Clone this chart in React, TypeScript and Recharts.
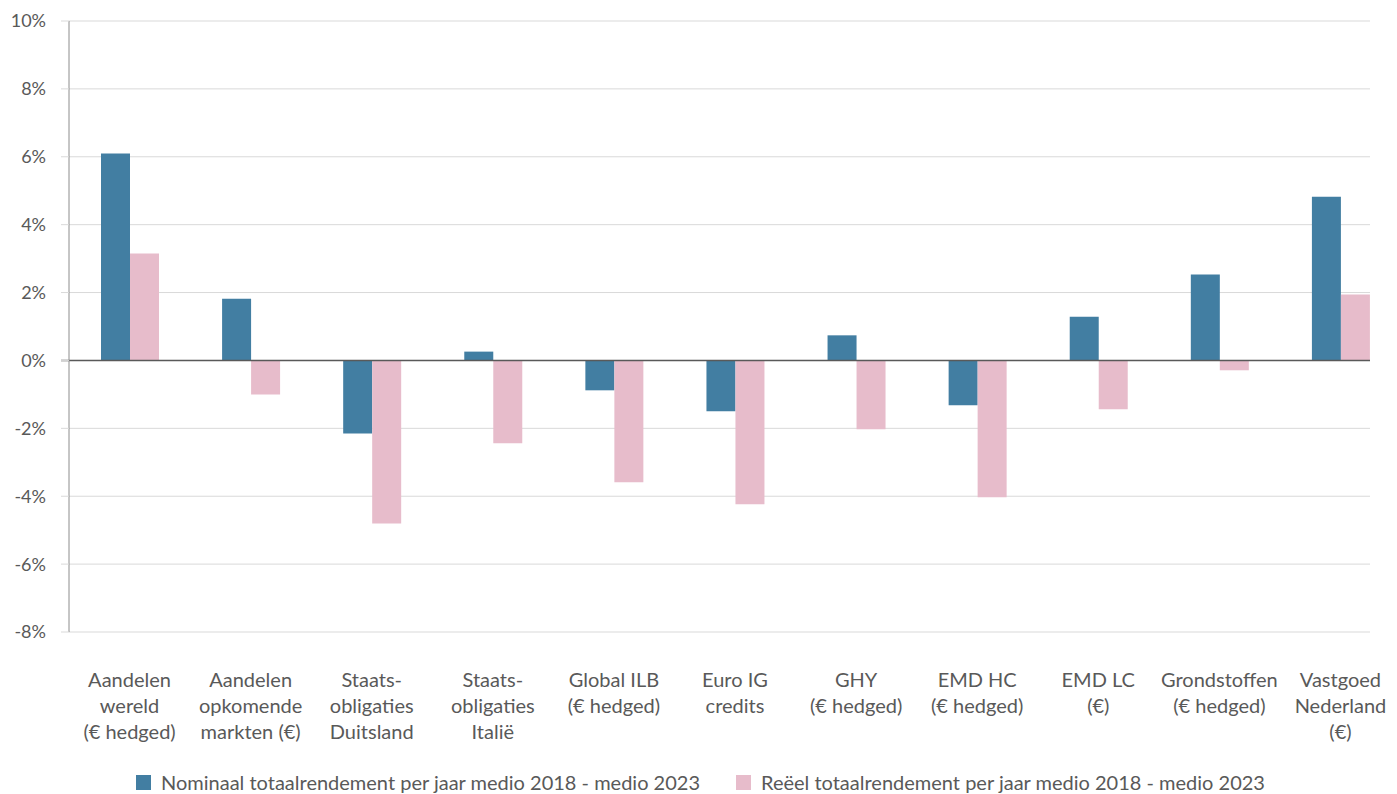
import React from "react";
import {
  BarChart,
  Bar,
  XAxis,
  YAxis,
  CartesianGrid,
  ReferenceLine,
  Legend,
} from "recharts";

const categories = [
  "Aandelen|wereld|(€ hedged)",
  "Aandelen|opkomende|markten (€)",
  "Staats-|obligaties|Duitsland",
  "Staats-|obligaties|Italië",
  "Global ILB|(€ hedged)",
  "Euro IG|credits",
  "GHY|(€ hedged)",
  "EMD HC|(€ hedged)",
  "EMD LC|(€)",
  "Grondstoffen|(€ hedged)",
  "Vastgoed|Nederland|(€)",
];
const nominaal = [6.1, 1.82, -2.15, 0.26, -0.88, -1.5, 0.74, -1.32, 1.29, 2.53, 4.82];
const reeel = [3.15, -1.0, -4.8, -2.44, -3.59, -4.24, -2.03, -4.03, -1.44, -0.29, 1.94];
const yTicks = [-8, -6, -4, -2, 0, 2, 4, 6, 8, 10];

const seriesNames = [
  "Nominaal totaalrendement per jaar medio 2018 - medio 2023",
  "Reëel totaalrendement per jaar medio 2018 - medio 2023",
];
const colors = ["#427ea2", "#e7bccb"];

const data = categories.map((c, i) => ({
  name: c,
  nominaal: nominaal[i],
  reeel: reeel[i],
}));

const font = "Lato, 'Open Sans', sans-serif";
const textColor = "#595959";

function XTick(props: any) {
  const { x, y, payload } = props;
  const lines = String(payload.value).split("|");
  return (
    <text
      x={x}
      y={y + 55}
      textAnchor="middle"
      fill={textColor}
      fontSize={20}
      fontFamily={font}
    >
      {lines.map((l, i) => (
        <tspan key={i} x={x} dy={i === 0 ? 0 : 26}>
          {l}
        </tspan>
      ))}
    </text>
  );
}

// zero line stops where the grid stops
function ZeroLine(props: any) {
  const { y1 } = props;
  return <line x1={61} x2={1370} y1={y1} y2={y1} stroke="#595959" strokeWidth={1.5} />;
}

function LegendContent() {
  return (
    <div
      style={{
        display: "flex",
        justifyContent: "center",
        paddingTop: 18,
        fontFamily: font,
        fontSize: 20,
        color: textColor,
        lineHeight: "20px",
      }}
    >
      {seriesNames.map((n, i) => (
        <div
          key={n}
          style={{ display: "flex", alignItems: "center", marginLeft: i ? 36 : 0 }}
        >
          <span
            style={{
              width: 15,
              height: 15,
              background: colors[i],
              display: "inline-block",
              marginRight: 10,
            }}
          />
          <span>{n}</span>
        </div>
      ))}
    </div>
  );
}

export default function App() {
  return (
    <div
      style={{
        position: "absolute",
        left: 0,
        top: 0,
        width: 1397,
        height: 794,
        overflow: "hidden",
        background: "#fff",
      }}
    >
      <BarChart
        width={1401}
        height={794}
        data={data}
        margin={{ top: 21, right: 0, left: 0, bottom: 0 }}
        barGap={0}
        barSize={29}
      >
        <CartesianGrid
          vertical={false}
          stroke="#d9d9d9"
          strokeWidth={1}
          x={69}
          width={1301}
        />
        <YAxis
          type="number"
          domain={[-8, 10]}
          ticks={yTicks}
          interval={0}
          width={69}
          tickFormatter={(v) => v + "%"}
          tick={{ fill: textColor, fontSize: 18, fontFamily: font }}
          tickSize={8}
          tickMargin={15}
          tickLine={{ stroke: "#d9d9d9" }}
          axisLine={{ stroke: "#8c8c8c" }}
        />
        <XAxis
          dataKey="name"
          interval={0}
          height={122}
          tick={<XTick />}
          tickLine={false}
          axisLine={false}
          tickSize={0}
          tickMargin={0}
        />
        <Legend height={40} verticalAlign="bottom" content={<LegendContent />} />
        <Bar dataKey="nominaal" name={seriesNames[0]} fill={colors[0]} isAnimationActive={false} />
        <Bar dataKey="reeel" name={seriesNames[1]} fill={colors[1]} isAnimationActive={false} />
        <ReferenceLine y={0} shape={<ZeroLine />} />
      </BarChart>
    </div>
  );
}
